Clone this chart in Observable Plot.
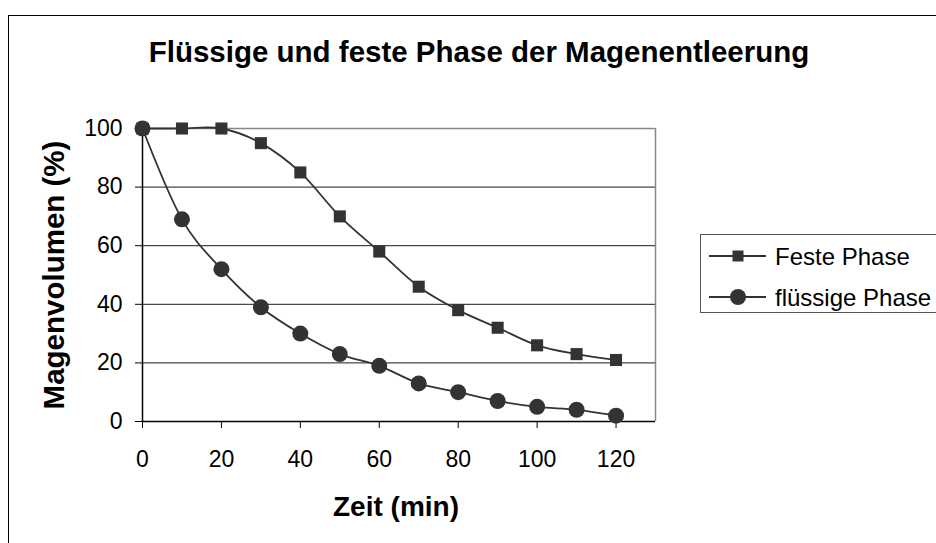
<!DOCTYPE html>
<html>
<head>
<meta charset="utf-8">
<script src="https://cdn.jsdelivr.net/npm/d3@7"></script>
<script src="https://cdn.jsdelivr.net/npm/@observablehq/plot@0.6"></script>
<style>
  html, body { margin: 0; padding: 0; background: #fff; overflow: hidden; }
  body { width: 936px; height: 543px; position: relative; font-family: "Liberation Sans", Arial, sans-serif; }
  #frame { position: absolute; left: 8px; top: 15px; width: 1000px; height: 600px; border: 1.5px solid #000; box-sizing: border-box; }
  #chart { position: absolute; left: 0; top: 0; }
  #legend { position: absolute; left: 700px; top: 234px; width: 260px; height: 79px; border: 1px solid #555; background: #fff; box-sizing: border-box; }
  #legend svg { position: absolute; left: 0; top: 0; }
</style>
</head>
<body>
<div id="frame"></div>
<div id="chart"></div>
<div id="legend"></div>
<script>
// ---- data ----
const times = [0, 10, 20, 30, 40, 50, 60, 70, 80, 90, 100, 110, 120];
const festePhase = [100, 100, 100, 95, 85, 70, 58, 46, 38, 32, 26, 23, 21];
const fluessigePhase = [100, 69, 52, 39, 30, 23, 19, 13, 10, 7, 5, 4, 2];
const seriesNames = ["Feste Phase", "flüssige Phase"];
const xTicks = [0, 20, 40, 60, 80, 100, 120];
const yTicks = [0, 20, 40, 60, 80, 100];
const titleText = "Flüssige und feste Phase der Magenentleerung";
const xLabel = "Zeit (min)";
const yLabel = "Magenvolumen (%)";

const feste = times.map((t, i) => ({t, v: festePhase[i]}));
const fluessig = times.map((t, i) => ({t, v: fluessigePhase[i]}));
const ink = "#333333";

const chart = Plot.plot({
  width: 936,
  height: 543,
  marginLeft: 142,
  marginRight: 281,
  marginTop: 128,
  marginBottom: 122,
  x: {domain: [0, 130]},
  y: {domain: [0, 100]},
  style: {fontFamily: "'Liberation Sans', Arial, sans-serif", background: "transparent", color: "#000", overflow: "visible"},
  marks: [
    Plot.ruleY(yTicks.filter(d => d > 0 && d < 100), {stroke: "#1a1a1a", strokeWidth: 1}),
    Plot.ruleY([100], {stroke: "#888", strokeWidth: 1.5}),
    Plot.ruleX([130], {stroke: "#888", strokeWidth: 1.5}),
    Plot.axisX({ticks: xTicks, tickSize: 7, tickPadding: 22, fontSize: 23, label: null, tickFormat: d => String(d)}),
    Plot.axisY({ticks: yTicks, tickSize: 7, tickPadding: 13, fontSize: 23, label: null, tickFormat: d => String(d)}),
    Plot.ruleX([0], {stroke: "#000", strokeWidth: 1.5}),
    Plot.ruleY([0], {stroke: "#000", strokeWidth: 1.5}),
    Plot.line(feste, {x: "t", y: "v", curve: "cardinal", stroke: ink, strokeWidth: 1.8}),
    Plot.line(fluessig, {x: "t", y: "v", curve: "cardinal", stroke: ink, strokeWidth: 1.8}),
    Plot.dot(feste, {x: "t", y: "v", symbol: "square", r: 6.8, fill: ink, stroke: "none"}),
    Plot.dot(fluessig, {x: "t", y: "v", symbol: "circle", r: 8, fill: ink, stroke: "none"}),
    Plot.text([titleText], {frameAnchor: "top", dx: 80, dy: -67, lineAnchor: "bottom", fontSize: 29.5, fontWeight: "bold", fill: "#000"}),
    Plot.text([xLabel], {frameAnchor: "bottom", dx: -3, dy: 94, lineAnchor: "bottom", fontSize: 28, fontWeight: "bold", fill: "#000"}),
    Plot.text([yLabel], {frameAnchor: "left", textAnchor: "middle", dx: -79, dy: 0, rotate: -90, lineAnchor: "bottom", fontSize: 29.5, fontWeight: "bold", fill: "#000"})
  ]
});
document.getElementById("chart").appendChild(chart);

// ---- legend ----
const lg = d3.select("#legend").append("svg").attr("width", 260).attr("height", 79);
const rows = [
  {name: seriesNames[0], symbol: d3.symbolSquare, size: 11 * 11, y: 21},
  {name: seriesNames[1], symbol: d3.symbolCircle, size: Math.PI * 8 * 8, y: 62}
];
rows.forEach(r => {
  lg.append("line").attr("x1", 8).attr("x2", 65).attr("y1", r.y).attr("y2", r.y).attr("stroke", ink).attr("stroke-width", 1.8);
  lg.append("path").attr("d", d3.symbol(r.symbol, r.size)()).attr("transform", `translate(37,${r.y})`).attr("fill", ink);
  lg.append("text").attr("x", 74).attr("y", r.y).attr("dy", "0.36em")
    .attr("font-size", 24).attr("font-family", "'Liberation Sans', Arial, sans-serif").attr("fill", "#000").text(r.name);
});
</script>
</body>
</html>
